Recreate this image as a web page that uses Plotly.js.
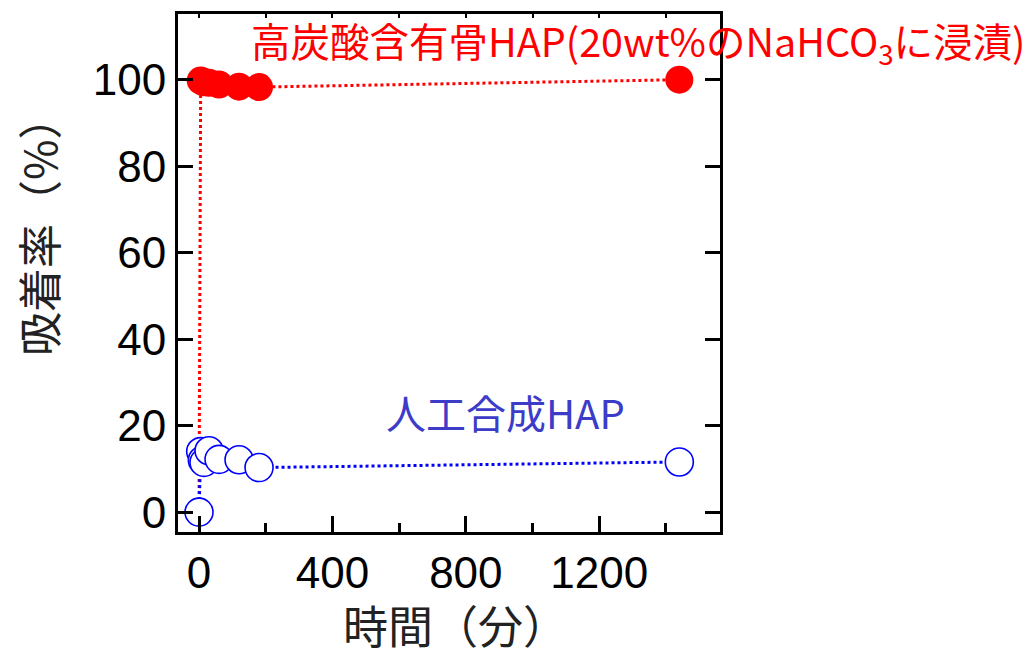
<!DOCTYPE html>
<html>
<head>
<meta charset="utf-8">
<script src="https://cdn.plot.ly/plotly-3.0.1.min.js"></script>
<style>html,body{margin:0;padding:0;background:#fff;}#chart{width:1035px;height:651px;}</style>
</head>
<body>
<div id="chart"></div>
<script>
// Time (min)
const times = [0, 5, 10, 15, 30, 60, 120, 180, 1440];
// Adsorption rate (%) - high-carbonate bone HAP (soaked in 20wt% NaHCO3)
const boneHAP = [0, 99.8, 99.6, 99.4, 99.3, 98.9, 98.4, 98.3, 100.0];
// Adsorption rate (%) - synthetic HAP
const synthHAP = [0, 14.0, 12.0, 11.5, 14.2, 12.2, 12.1, 10.3, 11.6];

const xTickVals = [0, 400, 800, 1200];
const yTickVals = [0, 20, 40, 60, 80, 100];

const labelBone = '高炭酸含有骨HAP(20wt%のNaHCO<sub>3</sub>に浸漬)';
const labelSynth = '人工合成HAP';
const xTitle = '時間（分）';
const yTitle = '吸着率（%）';

const cjk = '"Noto Sans CJK JP", "Noto Sans", sans-serif';
const num = '"Liberation Sans", Arial, sans-serif';

const traces = [
  {
    x: times, y: boneHAP, type: 'scatter', mode: 'lines+markers',
    line: {color: '#ff0000', width: 3, dash: 'dot'},
    marker: {symbol: 'circle', size: 28, color: '#ff0000', line: {color: '#ff0000', width: 0}},
    cliponaxis: false, showlegend: false
  },
  {
    x: times, y: synthHAP, type: 'scatter', mode: 'lines+markers',
    line: {color: '#0000ff', width: 3, dash: 'dot'},
    marker: {symbol: 'circle', size: 28, color: '#ffffff', line: {color: '#0000ff', width: 1.6}},
    cliponaxis: false, showlegend: false
  },
  {
    x: [0], y: [null], xaxis: 'x2', yaxis: 'y', type: 'scatter', mode: 'markers',
    showlegend: false, hoverinfo: 'skip'
  }
];

// plot area in pixels: left 178, right 720, top 14, bottom 532
const toPx = (px) => (px - 178) / 542;
const toPy = (py) => (532 - py) / 518;

const layout = {
  width: 1035, height: 651,
  margin: {l: 178, r: 315, t: 14, b: 119, pad: 0},
  paper_bgcolor: '#ffffff', plot_bgcolor: '#ffffff',
  showlegend: false,
  xaxis: {
    range: [-63, 1562], tickvals: xTickVals, ticktext: xTickVals.map(String),
    ticks: 'inside', ticklen: 16, tickwidth: 3, tickcolor: '#000',
    minor: {dtick: 200, tick0: 0, ticks: 'inside', ticklen: 9, tickwidth: 3, tickcolor: '#000'},
    showline: true, linecolor: '#000', linewidth: 3, mirror: true,
    showgrid: false, zeroline: false,
    tickfont: {family: num, size: 44, color: '#000'}
  },
  xaxis2: {
    overlaying: 'x', side: 'top', matches: 'x', range: [-63, 1562],
    tick0: 0, dtick: 200, ticks: 'inside', ticklen: 4, tickwidth: 2, tickcolor: '#000',
    showticklabels: false, showgrid: false, zeroline: false, showline: false
  },
  yaxis: {
    range: [-4.6, 115.2], tickvals: yTickVals, ticktext: yTickVals.map(String),
    ticks: 'inside', ticklen: 15, tickwidth: 3, tickcolor: '#000',
    showline: true, linecolor: '#000', linewidth: 3, mirror: 'ticks',
    showgrid: false, zeroline: false,
    tickfont: {family: num, size: 44, color: '#000'}
  },
  annotations: [
    {x: 150, y: 108.7, xref: 'x', yref: 'y', xanchor: 'left', yanchor: 'middle',
     text: labelBone, showarrow: false, font: {family: cjk, size: 39.5, color: '#ff0000'}},
    {x: 554, y: 23.1, xref: 'x', yref: 'y', xanchor: 'left', yanchor: 'middle',
     text: labelSynth, showarrow: false, font: {family: cjk, size: 40, color: '#3c3cc8'}},
    {x: toPx(455), y: toPy(624), xref: 'paper', yref: 'paper', xanchor: 'center', yanchor: 'middle',
     height: 48, valign: 'middle',
     text: xTitle, showarrow: false, font: {family: cjk, size: 45, color: '#222'}},
    {x: toPx(38), y: toPy(226), xref: 'paper', yref: 'paper', xanchor: 'center', yanchor: 'middle',
     text: yTitle, textangle: -90, showarrow: false, font: {family: cjk, size: 44, color: '#222'}}
  ]
};

Plotly.newPlot('chart', traces, layout, {staticPlot: true, displayModeBar: false});
</script>
</body>
</html>
